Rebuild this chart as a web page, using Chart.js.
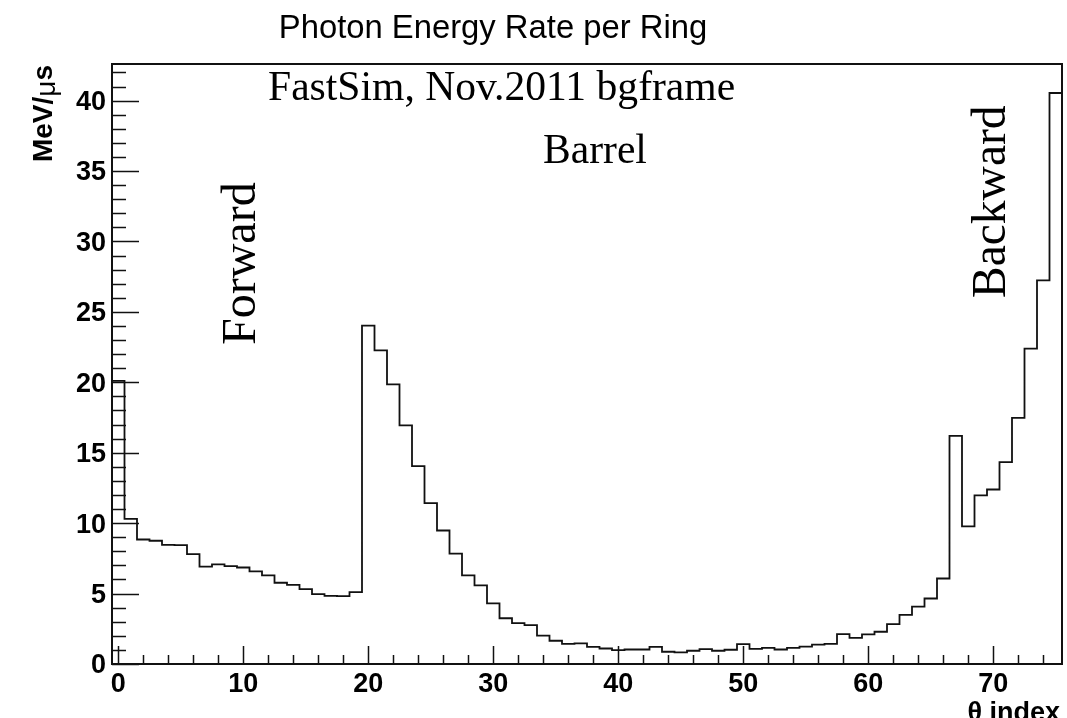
<!DOCTYPE html>
<html>
<head>
<meta charset="utf-8">
<script src="https://cdn.jsdelivr.net/npm/chart.js@4.4.0/dist/chart.umd.min.js"></script>
<style>
html,body{margin:0;padding:0;background:#fff;}
#wrap{width:1067px;height:718px;position:relative;}
</style>
</head>
<body>
<div id="wrap"><canvas id="c" width="1067" height="718"></canvas></div>
<script>
// ---- data ----
const binIndex = Array.from({length:76}, (_, i) => i); // theta ring index 0..75
const energyRate = [
  20.1, 10.3, 8.84, 8.75, 8.46, 8.44, 7.80, 6.92, 7.07, 6.95,
  6.85, 6.57, 6.29, 5.77, 5.62, 5.31, 4.96, 4.84, 4.82, 5.10,
  24.02, 22.27, 19.85, 16.94, 14.05, 11.42, 9.48, 7.83, 6.29, 5.58,
  4.30, 3.25, 2.90, 2.76, 2.02, 1.65, 1.43, 1.46, 1.22, 1.10,
  0.98, 1.03, 1.03, 1.22, 0.87, 0.82, 0.94, 1.05, 0.94, 1.01,
  1.41, 1.08, 1.15, 1.03, 1.15, 1.24, 1.38, 1.43, 2.12, 1.86,
  2.10, 2.29, 2.83, 3.49, 4.08, 4.65, 6.07, 16.2, 9.77, 11.97,
  12.39, 14.33, 17.48, 22.39, 27.24, 40.54
];
const xTickLabels = [0, 10, 20, 30, 40, 50, 60, 70];
const yTickLabels = [0, 5, 10, 15, 20, 25, 30, 35, 40];
const chartTitle = "Photon Energy Rate per Ring";
const xTitle = "θ index";
const yTitleParts = ["MeV/", "μ", "s"]; // MeV/μs
const note1 = "FastSim, Nov.2011 bgframe";
const note2 = "Barrel";
const note3 = "Forward";
const note4 = "Backward";

// histogram outline: points at bin low edges (step 'before' keeps value until next edge)
const binWidth = 1;
const pts = [{x: binIndex[0] - binWidth/2, y: 0}];
binIndex.forEach((b, i) => pts.push({x: b - binWidth/2, y: energyRate[i]}));
const lastB = binIndex[binIndex.length-1];
pts.push({x: lastB + binWidth/2, y: energyRate[energyRate.length-1]});
pts.push({x: lastB + binWidth/2, y: 0});

const SANS = "'Liberation Sans', Arial, Helvetica, sans-serif";
const SERIF = "'Liberation Serif', 'Times New Roman', serif";

const rootPlugin = {
  id: 'rootFrame',
  afterDatasetsDraw(chart) {
    const {ctx, chartArea: a, scales: {x, y}} = chart;
    ctx.save();
    ctx.strokeStyle = '#111';
    // inner ticks
    ctx.lineWidth = 1.5;
    ctx.beginPath();
    for (let v = 0; v <= 75; v += 2) {
      const px = Math.round(x.getPixelForValue(v)) + 0.5;
      const len = (v % 10 === 0) ? 18 : 9;
      ctx.moveTo(px, a.bottom);
      ctx.lineTo(px, a.bottom - len);
    }
    for (let v = 0; v <= 42; v += 1) {
      const py = Math.round(y.getPixelForValue(v)) + 0.5;
      const len = (v % 5 === 0) ? 27 : 14;
      ctx.moveTo(a.left, py);
      ctx.lineTo(a.left + len, py);
    }
    ctx.stroke();
    // frame
    ctx.lineWidth = 2;
    ctx.strokeRect(a.left, a.top, a.right - a.left, a.bottom - a.top);

    ctx.fillStyle = '#000';
    // title
    ctx.font = "32.8px " + SANS;
    ctx.textAlign = 'center';
    ctx.textBaseline = 'alphabetic';
    ctx.fillText(chartTitle, 493, 38);
    // notes
    ctx.font = "41.6px " + SERIF;
    ctx.textAlign = 'left';
    ctx.fillText(note1, 268, 100);
    ctx.fillText(note2, 543, 163);
    ctx.font = "48px " + SERIF;
    ctx.save();
    ctx.translate(255, 345); ctx.rotate(-Math.PI/2);
    ctx.fillText(note3, 0, 0);
    ctx.restore();
    ctx.font = "47.5px " + SERIF;
    ctx.save();
    ctx.translate(1005, 298); ctx.rotate(-Math.PI/2);
    ctx.fillText(note4, 0, 0);
    ctx.restore();
    // x axis title
    ctx.font = "bold 27px " + SANS;
    ctx.textAlign = 'right';
    ctx.fillText(xTitle, 1060, 721);
    // y axis title (rotated, ends at top of frame)
    const fonts = ["bold 28px " + SANS, "28px " + SANS, "bold 28px " + SANS];
    const widths = yTitleParts.map((t, i) => { ctx.font = fonts[i]; return ctx.measureText(t).width; });
    const total = widths.reduce((s, w) => s + w, 0);
    ctx.save();
    ctx.translate(52, 65); ctx.rotate(-Math.PI/2);
    ctx.textAlign = 'left';
    let cx = -total;
    yTitleParts.forEach((t, i) => {
      ctx.font = fonts[i];
      ctx.fillText(t, cx, i === 1 ? 3 : 0);
      cx += widths[i];
    });
    ctx.restore();
    ctx.restore();
  }
};

new Chart(document.getElementById('c'), {
  type: 'line',
  data: {
    datasets: [{
      data: pts,
      stepped: 'before',
      borderColor: '#111',
      borderWidth: 1.8,
      pointRadius: 0,
      fill: false,
      tension: 0,
      clip: 6
    }]
  },
  options: {
    animation: false,
    responsive: false,
    devicePixelRatio: 1,
    layout: {padding: {top: 64, right: 5, left: 0, bottom: 0}},
    plugins: {legend: {display: false}, tooltip: {enabled: false}, title: {display: false}},
    scales: {
      x: {
        type: 'linear', min: -0.5, max: 75.5,
        grid: {display: false, drawTicks: false},
        border: {display: false},
        afterBuildTicks: s => { s.ticks = xTickLabels.map(v => ({value: v})); },
        afterFit: s => { s.height = 54; },
        ticks: {font: {family: SANS, weight: 'bold', size: 27}, color: '#000', padding: 4,
                maxRotation: 0, autoSkip: false, callback: v => String(v)}
      },
      y: {
        type: 'linear', min: 0, max: 42.6,
        grid: {display: false, drawTicks: false},
        border: {display: false},
        afterBuildTicks: s => { s.ticks = yTickLabels.map(v => ({value: v})); },
        afterFit: s => { s.width = 112; },
        ticks: {font: {family: SANS, weight: 'bold', size: 27}, color: '#000', padding: 6,
                labelOffset: 2, autoSkip: false, callback: v => String(v)}
      }
    }
  },
  plugins: [rootPlugin]
});
</script>
</body>
</html>
